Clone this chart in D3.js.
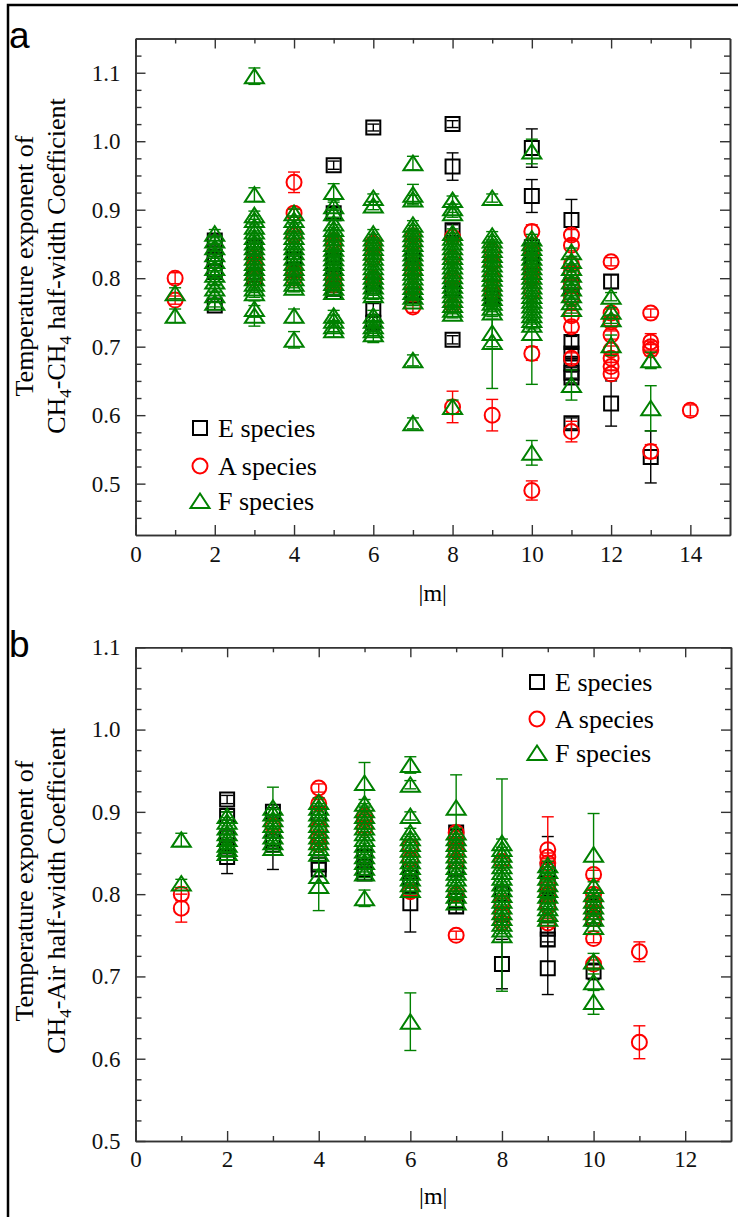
<!DOCTYPE html>
<html><head><meta charset="utf-8">
<script src="https://cdn.jsdelivr.net/npm/d3@7"></script>
<style>
html,body{margin:0;padding:0;background:#fff;}
svg{display:block;}
</style></head>
<body>
<svg id="chart" width="738" height="1217"></svg>
<script>
// ---------- DATA (|m|, value, error) ----------
const seriesNames = ["E species", "A species", "F species"];
const xTicksA = [0,2,4,6,8,10,12,14];
const xTicksB = [0,2,4,6,8,10,12];
const yTicks = [0.5,0.6,0.7,0.8,0.9,1.0,1.1];

// Panel a: CH4-CH4
const aE = [
 [2,0.855,0.008],[2,0.831,0.006],[2,0.826,0.006],[2,0.809,0.006],[2,0.76,0.006],
 [3,0.845,0.006],[3,0.84,0.006],[3,0.805,0.006],[3,0.80,0.006],
 [4,0.828,0.006],[4,0.812,0.006],
 [5,0.965,0.006],[5,0.895,0.008],[5,0.83,0.006],[5,0.825,0.006],[5,0.80,0.006],[5,0.785,0.006],[5,0.78,0.006],
 [6,1.02,0.005],[6,0.795,0.006],[6,0.788,0.006],[6,0.755,0.008],[6,0.735,0.008],
 [7,0.83,0.006],[7,0.775,0.006],
 [8,1.025,0.005],[8,0.963,0.02],[8,0.87,0.008],[8,0.785,0.006],[8,0.71,0.006],
 [9,0.775,0.006],[9,0.77,0.006],
 [10,0.99,0.028],[10,0.92,0.024],[10,0.845,0.006],[10,0.82,0.006],[10,0.815,0.006],
 [11,0.885,0.03],[11,0.79,0.006],[11,0.775,0.006],[11,0.707,0.008],[11,0.69,0.008],[11,0.675,0.008],[11,0.662,0.008],[11,0.655,0.008],[11,0.588,0.008],
 [12,0.795,0.01],[12,0.617,0.033],
 [13,0.539,0.038]
];
const aA = [
 [1,0.80,0.008],[1,0.768,0.006],
 [3,0.83,0.006],[3,0.82,0.006],[3,0.80,0.006],
 [4,0.94,0.015],[4,0.895,0.006],[4,0.862,0.006],[4,0.81,0.006],[4,0.80,0.006],
 [5,0.855,0.006],[5,0.848,0.006],[5,0.797,0.006],[5,0.79,0.006],
 [6,0.851,0.006],[6,0.845,0.006],[6,0.83,0.006],[6,0.80,0.006],
 [7,0.862,0.006],[7,0.85,0.006],[7,0.82,0.006],[7,0.81,0.006],[7,0.785,0.008],[7,0.758,0.008],
 [8,0.86,0.006],[8,0.83,0.006],[8,0.80,0.006],[8,0.76,0.006],[8,0.612,0.023],
 [9,0.84,0.006],[9,0.822,0.006],[9,0.80,0.006],[9,0.78,0.006],[9,0.60,0.023],
 [10,0.868,0.01],[10,0.84,0.006],[10,0.81,0.006],[10,0.80,0.006],[10,0.78,0.006],[10,0.69,0.01],[10,0.49,0.014],
 [11,0.863,0.008],[11,0.848,0.008],[11,0.82,0.008],[11,0.809,0.008],[11,0.79,0.008],[11,0.77,0.008],[11,0.745,0.008],[11,0.729,0.008],[11,0.683,0.008],[11,0.576,0.015],
 [12,0.824,0.006],[12,0.749,0.006],[12,0.736,0.006],[12,0.717,0.006],[12,0.695,0.006],[12,0.683,0.006],[12,0.671,0.006],[12,0.66,0.006],
 [13,0.749,0.006],[13,0.707,0.012],[13,0.70,0.008],[13,0.695,0.008],[13,0.547,0.01],
 [14,0.607,0.008]
];
const aF = [
 [1,0.778,0.008],[1,0.745,0.01],
 [2,0.865,0.006],[2,0.855,0.006],[2,0.845,0.006],[2,0.835,0.006],[2,0.825,0.006],[2,0.815,0.006],[2,0.805,0.006],[2,0.795,0.006],[2,0.785,0.006],[2,0.775,0.006],[2,0.764,0.006],
 [3,1.095,0.012],[3,0.922,0.01],[3,0.892,0.006],[3,0.885,0.006],[3,0.875,0.006],[3,0.868,0.006],[3,0.86,0.006],[3,0.852,0.006],[3,0.845,0.006],[3,0.838,0.006],[3,0.83,0.006],[3,0.822,0.006],[3,0.815,0.006],[3,0.808,0.006],[3,0.80,0.006],[3,0.792,0.006],[3,0.785,0.006],[3,0.778,0.006],[3,0.755,0.012],[3,0.745,0.015],
 [4,0.895,0.006],[4,0.885,0.006],[4,0.875,0.006],[4,0.868,0.006],[4,0.86,0.006],[4,0.852,0.006],[4,0.845,0.006],[4,0.838,0.006],[4,0.83,0.006],[4,0.822,0.006],[4,0.815,0.006],[4,0.808,0.006],[4,0.80,0.006],[4,0.792,0.006],[4,0.786,0.006],[4,0.745,0.01],[4,0.71,0.012],
 [5,0.926,0.012],[5,0.905,0.006],[5,0.895,0.006],[5,0.88,0.006],[5,0.872,0.006],[5,0.865,0.006],[5,0.858,0.006],[5,0.85,0.006],[5,0.843,0.006],[5,0.836,0.006],[5,0.829,0.006],[5,0.822,0.006],[5,0.815,0.006],[5,0.808,0.006],[5,0.80,0.006],[5,0.793,0.006],[5,0.786,0.006],[5,0.78,0.006],[5,0.745,0.008],[5,0.738,0.008],[5,0.73,0.008],[5,0.724,0.01],
 [6,0.917,0.006],[6,0.906,0.006],[6,0.865,0.006],[6,0.858,0.006],[6,0.851,0.006],[6,0.844,0.006],[6,0.837,0.006],[6,0.83,0.006],[6,0.823,0.006],[6,0.816,0.006],[6,0.809,0.006],[6,0.802,0.006],[6,0.795,0.006],[6,0.788,0.006],[6,0.781,0.006],[6,0.775,0.006],[6,0.745,0.008],[6,0.738,0.008],[6,0.73,0.008],[6,0.724,0.008],[6,0.718,0.012],
 [7,0.968,0.01],[7,0.922,0.015],[7,0.915,0.006],[7,0.878,0.006],[7,0.871,0.006],[7,0.864,0.006],[7,0.857,0.006],[7,0.85,0.006],[7,0.843,0.006],[7,0.836,0.006],[7,0.829,0.006],[7,0.822,0.006],[7,0.815,0.006],[7,0.808,0.006],[7,0.801,0.006],[7,0.794,0.006],[7,0.787,0.006],[7,0.78,0.006],[7,0.773,0.006],[7,0.766,0.006],[7,0.68,0.008],[7,0.588,0.008],
 [8,0.914,0.006],[8,0.902,0.006],[8,0.895,0.006],[8,0.866,0.006],[8,0.859,0.006],[8,0.852,0.006],[8,0.845,0.006],[8,0.838,0.006],[8,0.831,0.006],[8,0.824,0.006],[8,0.817,0.006],[8,0.81,0.006],[8,0.803,0.006],[8,0.796,0.006],[8,0.789,0.006],[8,0.782,0.006],[8,0.775,0.006],[8,0.768,0.006],[8,0.761,0.006],[8,0.754,0.006],[8,0.748,0.006],[8,0.612,0.01],
 [9,0.917,0.006],[9,0.862,0.006],[9,0.855,0.006],[9,0.848,0.006],[9,0.841,0.006],[9,0.834,0.006],[9,0.827,0.006],[9,0.82,0.006],[9,0.813,0.006],[9,0.806,0.006],[9,0.799,0.006],[9,0.792,0.006],[9,0.785,0.006],[9,0.778,0.006],[9,0.771,0.006],[9,0.764,0.006],[9,0.757,0.006],[9,0.75,0.006],[9,0.72,0.02],[9,0.707,0.068],
 [10,0.985,0.018],[10,0.858,0.006],[10,0.851,0.006],[10,0.844,0.006],[10,0.837,0.006],[10,0.83,0.006],[10,0.823,0.006],[10,0.816,0.006],[10,0.809,0.006],[10,0.802,0.006],[10,0.795,0.006],[10,0.788,0.006],[10,0.781,0.006],[10,0.774,0.006],[10,0.767,0.006],[10,0.76,0.006],[10,0.753,0.006],[10,0.746,0.006],[10,0.739,0.006],[10,0.732,0.006],[10,0.72,0.075],[10,0.545,0.018],
 [11,0.838,0.006],[11,0.825,0.006],[11,0.815,0.006],[11,0.805,0.006],[11,0.795,0.006],[11,0.785,0.006],[11,0.775,0.006],[11,0.765,0.006],[11,0.755,0.006],[11,0.644,0.022],
 [12,0.773,0.006],[12,0.751,0.006],[12,0.74,0.006],[12,0.702,0.015],
 [13,0.68,0.012],[13,0.61,0.033]
];

// Panel b: CH4-Air
const bE = [
 [2,0.915,0.005],[2,0.895,0.005],[2,0.868,0.005],[2,0.858,0.005],[2,0.845,0.02],
 [3,0.90,0.005],[3,0.864,0.005],[3,0.86,0.03],
 [4,0.898,0.005],[4,0.836,0.008],[4,0.83,0.008],
 [5,0.85,0.008],[5,0.845,0.008],[5,0.83,0.008],[5,0.825,0.008],
 [6,0.83,0.008],[6,0.82,0.008],[6,0.81,0.008],[6,0.789,0.035],
 [7,0.875,0.008],[7,0.87,0.008],[7,0.83,0.008],[7,0.792,0.008],[7,0.785,0.008],
 [8,0.80,0.008],[8,0.775,0.008],[8,0.715,0.03],
 [9,0.83,0.04],[9,0.81,0.008],[9,0.79,0.008],[9,0.758,0.008],[9,0.745,0.008],[9,0.71,0.032],
 [10,0.785,0.008],[10,0.77,0.008],[10,0.706,0.01]
];
const bA = [
 [1,0.80,0.008],[1,0.783,0.017],
 [3,0.883,0.005],
 [4,0.929,0.005],[4,0.91,0.005],[4,0.88,0.005],[4,0.868,0.005],[4,0.86,0.005],
 [5,0.895,0.005],[5,0.89,0.005],[5,0.88,0.005],
 [6,0.858,0.005],[6,0.842,0.005],[6,0.803,0.005],
 [7,0.875,0.005],[7,0.868,0.005],[7,0.86,0.005],[7,0.852,0.005],[7,0.84,0.005],[7,0.80,0.005],[7,0.75,0.005],
 [8,0.84,0.005],[8,0.79,0.005],[8,0.776,0.005],[8,0.765,0.005],
 [9,0.854,0.04],[9,0.845,0.005],[9,0.838,0.005],[9,0.813,0.005],[9,0.80,0.005],[9,0.785,0.005],[9,0.765,0.005],
 [10,0.824,0.005],[10,0.80,0.005],[10,0.79,0.005],[10,0.778,0.005],[10,0.77,0.005],[10,0.746,0.005],[10,0.715,0.005],
 [11,0.73,0.012],[11,0.62,0.02]
];
const bF = [
 [1,0.866,0.008],[1,0.813,0.005],
 [2,0.895,0.005],[2,0.888,0.005],[2,0.881,0.005],[2,0.874,0.005],[2,0.867,0.005],[2,0.86,0.005],[2,0.855,0.005],[2,0.85,0.005],
 [3,0.905,0.025],[3,0.898,0.005],[3,0.891,0.005],[3,0.884,0.005],[3,0.877,0.005],[3,0.87,0.005],[3,0.863,0.005],[3,0.856,0.005],
 [4,0.912,0.005],[4,0.905,0.005],[4,0.898,0.005],[4,0.891,0.005],[4,0.884,0.005],[4,0.877,0.005],[4,0.87,0.005],[4,0.863,0.005],[4,0.856,0.005],[4,0.849,0.005],[4,0.822,0.008],[4,0.81,0.03],
 [5,0.935,0.025],[5,0.91,0.005],[5,0.902,0.005],[5,0.895,0.005],[5,0.888,0.005],[5,0.881,0.005],[5,0.874,0.005],[5,0.867,0.005],[5,0.86,0.005],[5,0.853,0.005],[5,0.846,0.005],[5,0.839,0.005],[5,0.832,0.005],[5,0.825,0.005],[5,0.795,0.01],
 [6,0.957,0.01],[6,0.933,0.005],[6,0.895,0.005],[6,0.875,0.005],[6,0.868,0.005],[6,0.861,0.005],[6,0.854,0.005],[6,0.847,0.005],[6,0.84,0.005],[6,0.833,0.005],[6,0.826,0.005],[6,0.819,0.005],[6,0.812,0.005],[6,0.805,0.005],[6,0.645,0.035],
 [7,0.905,0.04],[7,0.875,0.005],[7,0.868,0.005],[7,0.861,0.005],[7,0.854,0.005],[7,0.847,0.005],[7,0.84,0.005],[7,0.833,0.005],[7,0.826,0.005],[7,0.819,0.005],[7,0.812,0.005],[7,0.805,0.005],[7,0.798,0.005],[7,0.79,0.005],
 [8,0.862,0.005],[8,0.855,0.085],[8,0.848,0.005],[8,0.841,0.005],[8,0.834,0.005],[8,0.827,0.005],[8,0.82,0.005],[8,0.813,0.005],[8,0.806,0.005],[8,0.799,0.005],[8,0.792,0.005],[8,0.785,0.005],[8,0.778,0.005],[8,0.771,0.005],[8,0.764,0.005],[8,0.757,0.005],[8,0.75,0.068],
 [9,0.835,0.005],[9,0.828,0.005],[9,0.82,0.005],[9,0.812,0.005],[9,0.805,0.005],[9,0.798,0.005],[9,0.79,0.005],[9,0.783,0.005],[9,0.776,0.005],[9,0.77,0.005],
 [10,0.848,0.05],[10,0.81,0.005],[10,0.80,0.005],[10,0.792,0.005],[10,0.785,0.005],[10,0.778,0.005],[10,0.77,0.005],[10,0.76,0.005],[10,0.718,0.01],[10,0.693,0.01],[10,0.669,0.015]
];

// ---------- STYLE ----------
const colors = ["#000000", "#ff0000", "#008000"];
const serif = "'Liberation Serif','Times New Roman',serif";
const sans = "'Liberation Sans',Arial,sans-serif";

const svg = d3.select("#chart");

// outer frame (top & left)
svg.append("path").attr("d","M8,1217 L8,5 L738,5")
  .attr("fill","none").attr("stroke","#000").attr("stroke-width",2.5);

function markerPath(kind){
  if(kind===0) return "M-7,-7H7V7H-7Z";
  if(kind===1) return d3.arc()({innerRadius:0,outerRadius:7.5,startAngle:0,endAngle:2*Math.PI});
  return "M0,-7.5L9.5,7L-9.5,7Z";
}

function drawPanel(cfg){
  const x = d3.scaleLinear().domain(cfg.xDomain).range([cfg.left,cfg.right]);
  const y = d3.scaleLinear().domain(cfg.yDomain).range([cfg.bottom,cfg.top]);
  const g = svg.append("g");

  const xMinor = d3.range(1, cfg.xDomain[1], 2);
  const yMinor = d3.range(0, 40).map(i => +(0.425 + i*0.025).toFixed(3))
      .filter(v => v > cfg.yDomain[0] && v < cfg.yDomain[1] && Math.abs(v*10 - Math.round(v*10)) > 1e-6);

  function styleAxis(sel){
    sel.select(".domain").attr("stroke","#333").attr("stroke-width",1.6);
    sel.selectAll(".tick line").attr("stroke","#333").attr("stroke-width",1.4);
    sel.selectAll("text").attr("font-family",serif).attr("font-size",23).attr("fill","#111");
  }
  // bottom
  g.append("g").attr("transform",`translate(0,${cfg.bottom})`)
    .call(d3.axisBottom(x).tickValues(cfg.xTicks).tickSize(-10).tickSizeOuter(0).tickPadding(cfg.xPad).tickFormat(d3.format("d")))
    .call(styleAxis);
  g.append("g").attr("transform",`translate(0,${cfg.bottom})`)
    .call(d3.axisBottom(x).tickValues(xMinor).tickSize(-5).tickSizeOuter(0).tickFormat(""))
    .call(styleAxis);
  // top
  g.append("g").attr("transform",`translate(0,${cfg.top})`)
    .call(d3.axisTop(x).tickValues(cfg.xTicks).tickSize(-10).tickSizeOuter(0).tickFormat(""))
    .call(styleAxis);
  g.append("g").attr("transform",`translate(0,${cfg.top})`)
    .call(d3.axisTop(x).tickValues(xMinor).tickSize(-5).tickSizeOuter(0).tickFormat(""))
    .call(styleAxis);
  // left
  g.append("g").attr("transform",`translate(${cfg.left},0)`)
    .call(d3.axisLeft(y).tickValues(yTicks).tickSize(-10).tickSizeOuter(0).tickPadding(15).tickFormat(d3.format(".1f")))
    .call(styleAxis);
  g.append("g").attr("transform",`translate(${cfg.left},0)`)
    .call(d3.axisLeft(y).tickValues(yMinor).tickSize(-6).tickSizeOuter(0).tickFormat(""))
    .call(styleAxis);
  // right
  g.append("g").attr("transform",`translate(${cfg.right},0)`)
    .call(d3.axisRight(y).tickValues(yTicks).tickSize(-10).tickSizeOuter(0).tickFormat(""))
    .call(styleAxis);
  g.append("g").attr("transform",`translate(${cfg.right},0)`)
    .call(d3.axisRight(y).tickValues(yMinor).tickSize(-6).tickSizeOuter(0).tickFormat(""))
    .call(styleAxis);

  // data
  cfg.series.forEach((data, k) => {
    const sg = g.append("g");
    const eb = sg.selectAll("g.eb").data(data).join("g").attr("class","eb")
      .attr("stroke",colors[k]).attr("stroke-width",1.4);
    eb.append("line").attr("x1",d=>x(d[0])).attr("x2",d=>x(d[0]))
      .attr("y1",d=>y(d[1]-d[2])).attr("y2",d=>y(d[1]+d[2]));
    eb.append("line").attr("x1",d=>x(d[0])-6).attr("x2",d=>x(d[0])+6)
      .attr("y1",d=>y(d[1]+d[2])).attr("y2",d=>y(d[1]+d[2]));
    eb.append("line").attr("x1",d=>x(d[0])-6).attr("x2",d=>x(d[0])+6)
      .attr("y1",d=>y(d[1]-d[2])).attr("y2",d=>y(d[1]-d[2]));
    sg.selectAll("path.mk").data(data).join("path").attr("class","mk")
      .attr("d",markerPath(k))
      .attr("transform",d=>`translate(${x(d[0])},${y(d[1])})`)
      .attr("fill","none").attr("stroke",colors[k]).attr("stroke-width",2);
  });

  // legend
  seriesNames.forEach((name,k)=>{
    const cy = cfg.legY[k];
    g.append("path").attr("d",markerPath(k)).attr("transform",`translate(${cfg.legX},${cy})`)
      .attr("fill","none").attr("stroke",colors[k]).attr("stroke-width",2);
    g.append("text").attr("x",cfg.legX+18).attr("y",cy+8.5)
      .attr("font-family",serif).attr("font-size",26).attr("fill","#000").text(name);
  });

  // x label
  g.append("text").attr("x",(cfg.left+cfg.right)/2).attr("y",cfg.xLabY)
    .attr("text-anchor","middle").attr("font-family",serif).attr("font-size",24).text("|m|");

  // y label (two lines)
  const cyl = cfg.yLabCenter;
  g.append("text").attr("transform",`translate(33,${cyl}) rotate(-90)`)
    .attr("text-anchor","middle").attr("font-family",serif).attr("font-size",26)
    .text("Temperature exponent of");
  const t2 = g.append("text").attr("transform",`translate(65,${cyl}) rotate(-90)`)
    .attr("text-anchor","middle").attr("font-family",serif).attr("font-size",26);
  cfg.yLab2.forEach(p=>{
    const ts = t2.append("tspan").text(p.t);
    if(p.sub){ ts.attr("font-size",17).attr("dy",6); }
    else if(p.after){ ts.attr("dy",-6); }
  });

  // panel letter
  svg.append("text").attr("x",9).attr("y",cfg.letterY).attr("font-family",sans)
    .attr("font-size",37).attr("fill","#000").text(cfg.letter);
}

drawPanel({
  letter:"a", letterY:48,
  left:135.5, right:730, top:38.5, bottom:535,
  xDomain:[0,15], yDomain:[0.425,1.15], xTicks:xTicksA, xPad:11,
  series:[aE,aA,aF],
  legX:200, legY:[428,466,501],
  xLabY:601, yLabCenter:266,
  yLab2:[{t:"CH"},{t:"4",sub:true},{t:"-CH",after:true},{t:"4",sub:true},{t:" half-width Coefficient",after:true}]
});
drawPanel({
  letter:"b", letterY:657,
  left:135.5, right:731, top:647.3, bottom:1141,
  xDomain:[0,13], yDomain:[0.5,1.1], xTicks:xTicksB, xPad:10,
  series:[bE,bA,bF],
  legX:537, legY:[682,719,753],
  xLabY:1204, yLabCenter:891,
  yLab2:[{t:"CH"},{t:"4",sub:true},{t:"-Air half-width Coefficient",after:true}]
});
</script>
</body></html>
